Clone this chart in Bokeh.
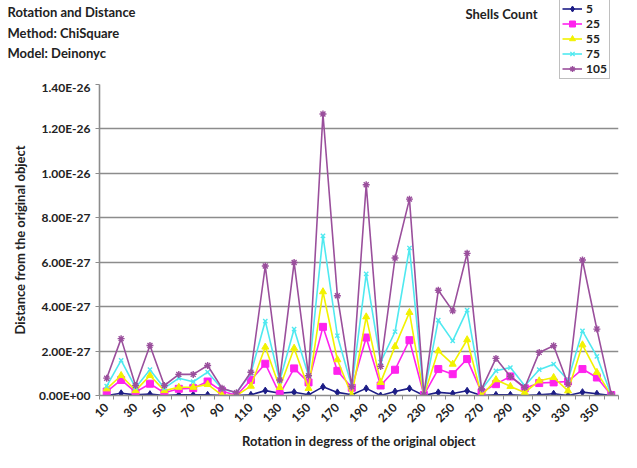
from math import pi
from bokeh.plotting import figure
from bokeh.models import Range1d, FixedTicker, Label, Legend, LegendItem
from bokeh.embed import file_html
from bokeh.resources import INLINE

# ---- data (values in units of 1E-27) ----
angles = list(range(10, 361, 10))
s5 = [0.00, 0.10, 0.03, 0.06, 0.00, 0.03, 0.03, 0.03, 0.00, 0.00, 0.03, 0.22,
      0.10, 0.15, 0.03, 0.39, 0.14, 0.03, 0.32, 0.00, 0.18, 0.32, 0.00, 0.14,
      0.09, 0.21, 0.00, 0.03, 0.03, 0.00, 0.03, 0.08, 0.00, 0.15, 0.08, 0.00]
s25 = [0.18, 0.70, 0.15, 0.53, 0.12, 0.30, 0.33, 0.63, 0.20, 0.00, 0.70, 1.43,
       0.06, 1.22, 0.59, 3.09, 1.11, 0.35, 2.61, 0.45, 1.16, 2.49, 0.02, 1.19,
       0.96, 1.64, 0.14, 0.51, 0.86, 0.33, 0.56, 0.59, 0.63, 1.19, 0.81, 0.02]
s55 = [0.30, 0.90, 0.22, 0.90, 0.22, 0.37, 0.37, 0.50, 0.02, 0.00, 0.42, 2.18,
       0.36, 2.13, 0.32, 4.67, 1.61, 0.00, 3.54, 0.59, 2.21, 3.74, 0.00, 2.01,
       1.41, 2.51, 0.00, 0.71, 0.41, 0.14, 0.66, 0.81, 0.21, 2.28, 1.04, 0.02]
s75 = [0.42, 1.58, 0.35, 1.16, 0.33, 0.78, 0.62, 1.05, 0.30, 0.12, 1.00, 3.35,
       0.65, 2.99, 0.89, 7.19, 2.69, 0.40, 5.47, 1.50, 2.87, 6.64, 0.03, 3.39,
       2.46, 3.84, 0.27, 1.11, 1.26, 0.44, 1.16, 1.41, 0.69, 2.91, 1.76, 0.02]
s105 = [0.78, 2.56, 0.45, 2.25, 0.45, 0.95, 0.95, 1.35, 0.33, 0.12, 1.05, 5.83,
        0.70, 5.99, 0.89, 12.67, 4.49, 0.40, 9.49, 1.31, 6.19, 8.84, 0.03, 4.74,
        3.81, 6.40, 0.29, 1.67, 0.86, 0.36, 1.94, 2.24, 0.51, 6.10, 2.99, 0.06]

series_names = ["5", "25", "55", "75", "105"]
series_vals = [s5, s25, s55, s75, s105]
colors = ["#1c1c86", "#ff22ee", "#f2f200", "#4fe9f0", "#9a4f9c"]
markers = ["diamond", "square", "triangle", "x", "asterisk"]
msizes = [7, 7, 7, 6, 7]

ytick_vals = [0, 2, 4, 6, 8, 10, 12, 14]
ytick_labels = ["0.00E+00", "2.00E-27", "4.00E-27", "6.00E-27", "8.00E-27",
                "1.00E-26", "1.20E-26", "1.40E-26"]
xtick_vals = list(range(10, 351, 20))

title_lines = ["Rotation and Distance", "Method: ChiSquare", "Model: Deinonyc"]
legend_title = "Shells Count"

FONT = "Lato"
TXT = "#222222"
W = 621
HEAD_H = 79
MAIN_H = 373
HEAD_BASE = 100  # header window sits above the data values, so its series only feed the legend


def draw_series(fig):
    out = []
    for name, vals, c, m, ms in zip(series_names, series_vals, colors, markers, msizes):
        r1 = fig.line(angles, vals, line_color=c, line_width=1.6)
        if m in ("x", "asterisk"):
            r2 = fig.scatter(angles, vals, marker=m, size=ms, line_color=c, line_width=1.4)
        else:
            r2 = fig.scatter(angles, vals, marker=m, size=ms, fill_color=c, line_color=c)
        out.append((name, [r1, r2]))
    return out


# ---- header (separate root): titles + legend ----
head = figure(width=W, height=HEAD_H, output_backend="svg", toolbar_location=None,
              x_range=Range1d(0, W), y_range=Range1d(HEAD_BASE, HEAD_BASE + HEAD_H),
              x_axis_location=None, y_axis_location=None, min_border=0)
head.outline_line_color = None
head.grid.visible = False

for t, fy in zip(title_lines, [11, 32, 52]):
    head.add_layout(Label(x=7, y=HEAD_BASE + HEAD_H - fy, text=t, text_font=FONT,
                          text_font_style="bold", text_font_size="13px",
                          text_color=TXT, text_baseline="middle", text_align="left"))
head.add_layout(Label(x=465, y=HEAD_BASE + HEAD_H - 13, text=legend_title,
                      text_font=FONT, text_font_style="bold", text_font_size="13px",
                      text_color=TXT, text_baseline="middle", text_align="left"))

items = [LegendItem(label=n, renderers=r) for n, r in draw_series(head)]
legend = Legend(items=items, location=(559, 0), orientation="vertical",
                label_text_font=FONT, label_text_font_style="bold",
                label_text_font_size="12px", label_text_color=TXT,
                glyph_width=20, glyph_height=15, label_height=15,
                spacing=0, padding=2, margin=0, label_standoff=4,
                border_line_color="#7f7f7f", border_line_width=1.4,
                background_fill_color="white")
head.add_layout(legend, "center")

# ---- main chart ----
p = figure(width=W, height=MAIN_H, output_backend="svg", toolbar_location=None,
           x_range=Range1d(5, 365), y_range=Range1d(0, 14),
           min_border_left=99, min_border_right=3, min_border_top=5,
           min_border_bottom=57)
p.outline_line_color = None
p.background_fill_color = "white"
p.xgrid.grid_line_color = None
p.ygrid.grid_line_color = "#8c8c8c"
p.ygrid.grid_line_width = 1.6

p.yaxis.ticker = FixedTicker(ticks=ytick_vals)
p.yaxis.major_label_overrides = {v: l for v, l in zip(ytick_vals, ytick_labels)}
p.yaxis.axis_label = "Distance from the original object"
p.xaxis.ticker = FixedTicker(ticks=xtick_vals, minor_ticks=[a - 5 for a in angles] + [365])
p.xaxis.axis_label = "Rotation in degress of the original object"
p.xaxis.major_label_orientation = pi / 4
for ax in (p.xaxis[0], p.yaxis[0]):
    ax.axis_line_color = "#8c8c8c"
    ax.axis_line_width = 1.6
    ax.major_label_text_font = FONT
    ax.major_label_text_font_style = "bold"
    ax.major_label_text_font_size = "12px"
    ax.major_label_text_color = TXT
    ax.axis_label_text_font = FONT
    ax.axis_label_text_font_style = "bold"
    ax.axis_label_text_font_size = "13px"
    ax.axis_label_text_color = TXT
p.yaxis.major_tick_out = 4
p.yaxis.major_tick_in = 0
p.yaxis.minor_tick_line_color = None
p.yaxis.major_tick_line_color = "#8c8c8c"
p.yaxis.axis_label_standoff = 8
p.xaxis.major_tick_out = 0
p.xaxis.major_tick_in = 0
p.xaxis.minor_tick_out = 4
p.xaxis.minor_tick_in = 0
p.xaxis.minor_tick_line_color = "#8c8c8c"
p.xaxis.major_label_standoff = 6
p.xaxis.axis_label_standoff = 4

draw_series(p)

open("out.html", "w").write(file_html([head, p], INLINE))
